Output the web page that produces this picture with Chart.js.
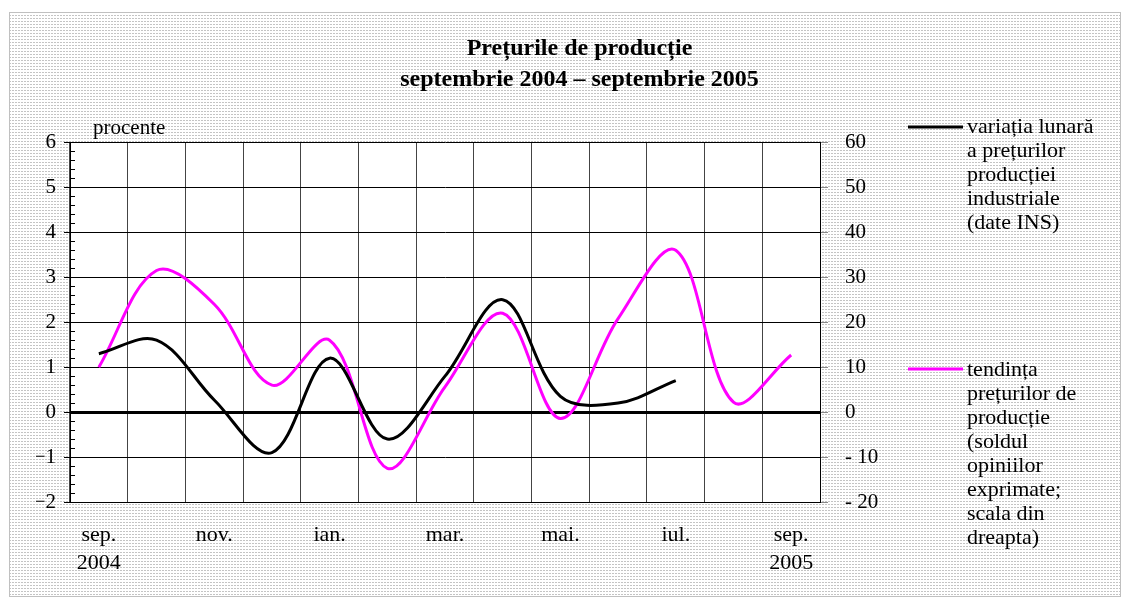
<!DOCTYPE html>
<html>
<head>
<meta charset="utf-8">
<script src="https://cdn.jsdelivr.net/npm/chart.js@4.4.0/dist/chart.umd.min.js"></script>
<style>
  html, body { margin: 0; padding: 0; background: #fff; }
</style>
</head>
<body>
<canvas id="pretChart" width="1123" height="599"></canvas>
<script>
// luni: sep. 2004 - sep. 2005
const categories = ['sep. 2004', 'oct.', 'nov.', 'dec.', 'ian.', 'feb.', 'mar.', 'apr.', 'mai.', 'iun.', 'iul.', 'aug.', 'sep. 2005'];
const tickLabels = [['sep.', '2004'], '', 'nov.', '', 'ian.', '', 'mar.', '', 'mai.', '', 'iul.', '', ['sep.', '2005']];

// variatia lunara (procente, scala stanga)
const variatieLunara = [1.3, 1.6, 0.27, -0.9, 1.2, -0.6, 0.8, 2.5, 0.35, 0.2, 0.7, null, null];
// tendinta preturilor (sold, scala dreapta)
const tendintaPreturi = [10, 31.5, 24, 6, 16, -12.5, 5.6, 22, -1.4, 20.8, 36, 2.2, 12.7];

const legendBlack = ['variația lunară', 'a prețurilor', 'producției', 'industriale', '(date INS)'];
const legendPink = ['tendința', 'prețurilor de', 'producție', '(soldul', 'opiniilor', 'exprimate;', 'scala din', 'dreapta)'];

const FONT = '"Liberation Serif", "Times New Roman", serif';

// fundal cu model punctat + zona graficului alba
const backgroundPlugin = {
    id: 'bgPattern',
    beforeDraw(chart) {
        const ctx = chart.ctx;
        const tile = document.createElement('canvas');
        tile.width = 3;
        tile.height = 3;
        const t = tile.getContext('2d');
        t.fillStyle = '#ffffff';
        t.fillRect(0, 0, 3, 3);
        t.fillStyle = '#c4c4c4';
        t.fillRect(0, 0, 2, 1);
        ctx.save();
        ctx.fillStyle = '#ffffff';
        ctx.fillRect(0, 0, chart.width, chart.height);
        ctx.fillStyle = ctx.createPattern(tile, 'repeat');
        ctx.fillRect(10, 13, 1110, 583);
        ctx.strokeStyle = '#c0c0c0';
        ctx.lineWidth = 1;
        ctx.strokeRect(9.5, 12.5, 1111, 584);
        const a = chart.chartArea;
        ctx.fillStyle = '#ffffff';
        ctx.fillRect(a.left, a.top, a.right - a.left, a.bottom - a.top);
        ctx.restore();
    }
};

// gradatii mici, "procente", legenda
const extrasPlugin = {
    id: 'extras',
    afterDraw(chart) {
        const ctx = chart.ctx;
        const y = chart.scales.y;
        const a = chart.chartArea;
        ctx.save();
        ctx.strokeStyle = '#000';
        ctx.lineWidth = 1;
        for (let v = -2; v < 6; v += 0.2) {
            const r = Math.round(v * 10) / 10;
            if (Math.abs(r - Math.round(r)) < 0.01) continue;
            const py = Math.round(y.getPixelForValue(r)) + 0.5;
            ctx.beginPath();
            ctx.moveTo(a.left, py);
            ctx.lineTo(a.left + 5, py);
            ctx.stroke();
        }

        ctx.fillStyle = '#000';
        ctx.font = '21px ' + FONT;
        ctx.textBaseline = 'middle';
        ctx.textAlign = 'left';
        ctx.fillText('procente', 93, 128);

        // legenda
        ctx.font = '22px ' + FONT;
        ctx.lineWidth = 3;
        ctx.strokeStyle = '#000';
        ctx.beginPath();
        ctx.moveTo(908, 127);
        ctx.lineTo(963, 127);
        ctx.stroke();
        legendBlack.forEach((line, i) => ctx.fillText(line, 967, 127 + i * 24));

        ctx.strokeStyle = '#ff00ff';
        ctx.beginPath();
        ctx.moveTo(908, 369);
        ctx.lineTo(963, 369);
        ctx.stroke();
        legendPink.forEach((line, i) => ctx.fillText(line, 967, 370 + i * 24));
        ctx.restore();
    }
};

const ctx = document.getElementById('pretChart').getContext('2d');

const chart = new Chart(ctx, {
    type: 'line',
    data: {
        labels: categories,
        datasets: [
            {
                label: 'variația lunară a prețurilor producției industriale (date INS)',
                data: variatieLunara,
                yAxisID: 'y',
                borderColor: '#000000',
                borderWidth: 3,
                pointRadius: 0,
                tension: 0.35,
                fill: false
            },
            {
                label: 'tendința prețurilor de producție (soldul opiniilor exprimate; scala din dreapta)',
                data: tendintaPreturi,
                yAxisID: 'y1',
                borderColor: '#ff00ff',
                borderWidth: 3,
                pointRadius: 0,
                tension: 0.35,
                fill: false
            }
        ]
    },
    options: {
        responsive: false,
        animation: false,
        devicePixelRatio: 1,
        layout: {
            padding: { left: 36, right: 0, top: 33, bottom: 0 }
        },
        plugins: {
            legend: { display: false },
            tooltip: { enabled: false },
            title: {
                display: true,
                text: ['Prețurile de producție', 'septembrie 2004 – septembrie 2005'],
                color: '#000',
                font: { family: FONT, size: 24, weight: 'bold', lineHeight: 1.3 },
                padding: { top: 0, bottom: 47 }
            }
        },
        scales: {
            x: {
                type: 'category',
                offset: true,
                grid: { offset: true, color: '#444', lineWidth: 1, drawTicks: false },
                border: { color: '#000', width: 1 },
                ticks: {
                    autoSkip: false,
                    maxRotation: 0,
                    padding: 19,
                    color: '#000',
                    font: { family: FONT, size: 22, lineHeight: 1.28 },
                    callback: (value, index) => tickLabels[index]
                },
                afterFit: (scale) => { scale.height = 97; }
            },
            y: {
                position: 'left',
                min: -2,
                max: 6,
                ticks: {
                    stepSize: 1,
                    padding: 8,
                    color: '#000',
                    font: { family: FONT, size: 21 },
                    callback: (v) => v < 0 ? '\u2212' + Math.abs(v) : String(v)
                },
                grid: {
                    color: '#000',
                    lineWidth: (c) => (c.tick && c.tick.value === 0) ? 3 : 1,
                    tickLength: 6,
                    tickWidth: 1,
                    tickColor: '#000'
                },
                border: { color: '#000', width: 1 },
                afterFit: (scale) => { scale.width = 34; }
            },
            y1: {
                position: 'right',
                min: -20,
                max: 60,
                ticks: {
                    stepSize: 10,
                    padding: 17,
                    color: '#000',
                    font: { family: FONT, size: 21 },
                    callback: (v) => v < 0 ? '- ' + Math.abs(v) : String(v)
                },
                grid: {
                    drawOnChartArea: false,
                    tickLength: 8,
                    tickColor: '#888'
                },
                border: { color: '#000', width: 1 },
                afterFit: (scale) => { scale.width = 303; }
            }
        }
    },
    plugins: [backgroundPlugin, extrasPlugin]
});
</script>
</body>
</html>
